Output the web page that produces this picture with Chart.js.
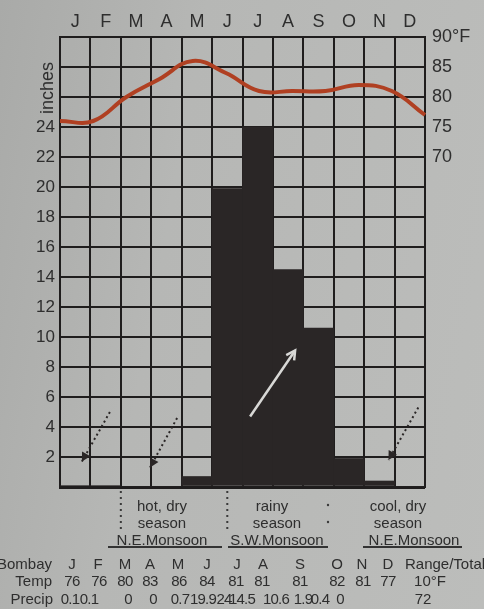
<!DOCTYPE html>
<html>
<head>
<meta charset="utf-8">
<script src="https://cdn.jsdelivr.net/npm/chart.js@4/dist/chart.umd.min.js"></script>
<style>
  html, body { margin:0; padding:0; }
  body { width:484px; height:609px; overflow:hidden; position:relative;
         background: linear-gradient(100deg, #a9aaa8 0%, #b6b7b5 35%, #bcbdbb 100%);
         font-family: 'Liberation Sans', Arial, sans-serif; color:#2e2e2e; }
  #wrap { position:absolute; left:0; top:0; width:484px; height:609px; }
  .t { position:absolute; white-space:nowrap; line-height:1; }
  .c { transform: translate(-50%, -50%); }
  .r { transform: translate(-100%, -50%); }
  .l { transform: translate(0, -50%); }
  .ul { position:absolute; height:2px; background:#333; }
</style>
</head>
<body>
<div id="wrap"><canvas id="chart" width="484" height="609"></canvas></div>
<div id="overlay"></div>
<script>
// ---------------- data ----------------
const months = ['J','F','M','A','M','J','J','A','S','O','N','D'];
const precipInches = [0.1, 0.1, 0, 0, 0.7, 19.9, 24, 14.5, 10.6, 1.9, 0.4, 0];
const tempF = [76, 76, 80, 83, 86, 84, 81, 81, 81, 82, 81, 77];
const inchTickLabels = [2, 4, 6, 8, 10, 12, 14, 16, 18, 20, 22, 24];
const tempTickLabels = ['70', '75', '80', '85', '90°F'];
const tempRange = '10°F';
const precipTotal = '72';
const stationName = 'Bombay';
const rangeTotalHeader = 'Range/Total';
const seasonTexts = [['hot, dry', 'season'], ['rainy', 'season'], ['cool, dry', 'season']];
const monsoonNames = ['N.E.Monsoon', 'S.W.Monsoon', 'N.E.Monsoon'];

// ---------------- layout / styling (not data) ----------------
const FONT = "'Liberation Sans', Arial, sans-serif";
const gridC = '#1f1d1d';
const txtC = '#2e2e2e';
// annotation arrows in (column-edge units, inches)
const arrows = [
  { from:[1.64, 5.0], to:[0.72, 1.7], dashed:true },
  { from:[3.85, 4.6], to:[2.96, 1.3], dashed:true },
  { from:[6.25, 4.7], to:[7.73, 9.1], dashed:false },
  { from:[11.78, 5.3], to:[10.8, 1.8], dashed:true }
];
const dividerCols = [2, 5.5];

function drawArrow(ctx, x1, y1, x2, y2, dashed) {
  ctx.save();
  const col = dashed ? '#2a2626' : '#d8d8d6';
  ctx.strokeStyle = col; ctx.fillStyle = col;
  ctx.lineWidth = dashed ? 2 : 2.5;
  ctx.setLineDash(dashed ? [2, 3] : []);
  ctx.beginPath(); ctx.moveTo(x1, y1); ctx.lineTo(x2, y2); ctx.stroke();
  ctx.setLineDash([]);
  const a = Math.atan2(y2 - y1, x2 - x1), L = 10, w = 0.5;
  ctx.beginPath();
  ctx.moveTo(x2 - L * Math.cos(a - w), y2 - L * Math.sin(a - w));
  ctx.lineTo(x2, y2);
  ctx.lineTo(x2 - L * Math.cos(a + w), y2 - L * Math.sin(a + w));
  if (dashed) { ctx.closePath(); ctx.fill(); } else { ctx.stroke(); }
  ctx.restore();
}

const annotPlugin = {
  id: 'annot',
  afterDatasetsDraw(chart) {
    const ctx = chart.ctx, xs = chart.scales.x, ys = chart.scales.y;
    const cw = (xs.right - xs.left) / months.length;
    const px = c => xs.left + c * cw;
    arrows.forEach(a => drawArrow(ctx, px(a.from[0]), ys.getPixelForValue(a.from[1]),
                                       px(a.to[0]), ys.getPixelForValue(a.to[1]), a.dashed));
  },
  afterDraw(chart) {
    const ctx = chart.ctx, xs = chart.scales.x;
    const cw = (xs.right - xs.left) / months.length;
    const bottom = chart.chartArea.bottom;
    ctx.save();
    ctx.strokeStyle = '#3a3a3a'; ctx.lineWidth = 2; ctx.setLineDash([2, 4]);
    dividerCols.forEach(c => {
      const x = xs.left + c * cw;
      ctx.beginPath(); ctx.moveTo(x, bottom + 4); ctx.lineTo(x, bottom + 42); ctx.stroke();
    });
    ctx.setLineDash([]);
    ctx.fillStyle = '#3a3a3a';
    [505, 522].forEach(y => { ctx.beginPath(); ctx.arc(328, y, 1.2, 0, Math.PI * 2); ctx.fill(); });
    ctx.restore();
  }
};

new Chart(document.getElementById('chart'), {
  type: 'bar',
  data: {
    labels: months,
    datasets: [
      { type:'line', label:'Temperature (°F)', data: tempF.map((t, i) => ({ x:i, y:t })),
        xAxisID:'xLine', yAxisID:'yT', borderColor:'rgb(176,64,34)', borderWidth:4,
        pointRadius:0, tension:0.42, clip:false, order:0 },
      { type:'bar', label:'Precipitation (inches)', data: precipInches,
        xAxisID:'x', yAxisID:'y', backgroundColor:'#2a2626', borderWidth:0,
        grouped:false, barPercentage:1, categoryPercentage:1, order:1 }
    ]
  },
  options: {
    responsive:false, animation:false, devicePixelRatio:1,
    layout: { padding: { top:0, left:0, right:0, bottom:122 } },
    plugins: { legend:{ display:false }, tooltip:{ enabled:false } },
    scales: {
      x: { position:'top', offset:true,
           grid:{ offset:true, color:gridC, lineWidth:2, drawTicks:false },
           border:{ color:gridC, width:2 },
           ticks:{ color:txtC, font:{ size:18, family:FONT }, padding:4, maxRotation:0 },
           afterFit(s) { s.height = 37; } },
      xLine: { type:'linear', display:false, offset:false, min:0, max:months.length - 1,
               grid:{ offset:false } },
      y: { position:'left', min:0, max:30,
           grid:{ color:gridC, lineWidth: c => (c.tick && c.tick.value === 0 ? 3 : 2), drawTicks:false },
           border:{ color:gridC, width:2 },
           ticks:{ stepSize:2, color:txtC, font:{ size:17, family:FONT }, padding:5,
                   callback: v => (inchTickLabels.includes(v) ? String(v) : '') },
           afterFit(s) { s.width = 60; } },
      yT: { position:'right', min:15, max:90,
            grid:{ display:false, drawTicks:false },
            border:{ color:gridC, width:2 },
            ticks:{ stepSize:5, color:txtC, font:{ size:18, family:FONT }, padding:7,
                    callback: v => { const s = v === 90 ? '90°F' : String(v); return tempTickLabels.includes(s) ? s : ''; } },
            afterFit(s) { s.width = 59; } }
    }
  },
  plugins: [annotPlugin]
});

// ---------------- HTML text below the chart ----------------
const ov = document.getElementById('overlay');
function addText(txt, x, y, cls, size, extra) {
  const d = document.createElement('div');
  d.className = 't ' + cls;
  d.textContent = txt;
  d.style.left = x + 'px'; d.style.top = y + 'px';
  d.style.fontSize = size + 'px';
  if (extra) Object.assign(d.style, extra);
  ov.appendChild(d);
}
// axis title
addText('inches', 47, 88, 'c', 18, { transform:'translate(-50%,-50%) rotate(-90deg)', color:txtC });

// seasons
const seasonX = [162, 272, 398];
const monsoonX = [162, 277, 414];
const underline = [[108, 222], [228, 328], [363, 462]];
seasonTexts.forEach((lines, i) => {
  addText(lines[0], seasonX[i], 505, 'c', 15);
  addText(lines[1], seasonX[i] + (i === 1 ? 5 : 0), 522, 'c', 15);
  addText(monsoonNames[i], monsoonX[i], 539, 'c', 15);
  const u = document.createElement('div');
  u.className = 'ul';
  u.style.left = underline[i][0] + 'px'; u.style.width = (underline[i][1] - underline[i][0]) + 'px';
  u.style.top = '546px';
  ov.appendChild(u);
});

// table
const monthX = [72, 98, 125, 150, 178, 207, 237, 263, 300, 337, 362, 388];
const tempX  = [72, 99, 125, 150, 179, 207, 236, 262, 300, 337, 363, 388];
const precX  = [70, 89, 128, 153, 180, 203, 224, 242, 276, 303, 320, 340];
const rowY = [563, 580, 598];
const TS = 15;
addText(stationName, 52, rowY[0], 'r', TS);
months.forEach((m, i) => addText(m, monthX[i], rowY[0], 'c', TS));
addText(rangeTotalHeader, 405, rowY[0], 'l', TS);
addText('Temp', 52, rowY[1], 'r', TS);
tempF.forEach((t, i) => addText(String(t), tempX[i], rowY[1], 'c', TS, { letterSpacing:'-0.5px' }));
addText(tempRange, 430, rowY[1], 'c', TS);
addText('Precip', 53, rowY[2], 'r', TS);
precipInches.forEach((p, i) => addText(String(p), precX[i], rowY[2], 'c', TS, { letterSpacing:'-0.8px' }));
addText(precipTotal, 423, rowY[2], 'c', TS);
</script>
</body>
</html>
